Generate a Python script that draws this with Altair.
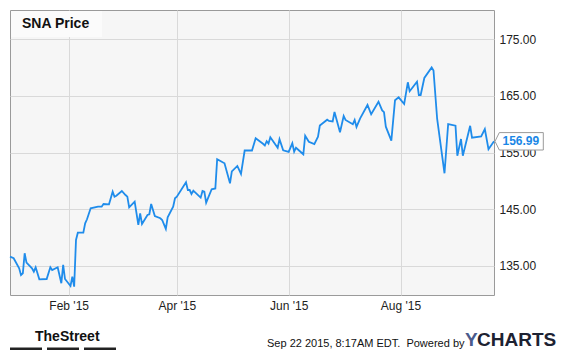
import altair as alt
import pandas as pd

# ---- data (SNA daily close, YTD 2015) ----
dates = [
    "2014-12-31", "2015-01-02", "2015-01-05", "2015-01-06", "2015-01-07", "2015-01-08", "2015-01-09",
    "2015-01-12", "2015-01-13", "2015-01-14", "2015-01-16", "2015-01-20", "2015-01-22", "2015-01-23",
    "2015-01-26", "2015-01-28", "2015-01-29", "2015-01-30", "2015-02-02", "2015-02-03", "2015-02-04",
    "2015-02-05", "2015-02-06", "2015-02-09", "2015-02-10", "2015-02-11", "2015-02-13", "2015-02-17",
    "2015-02-19", "2015-02-20", "2015-02-23", "2015-02-25", "2015-02-26", "2015-02-27", "2015-03-02",
    "2015-03-04", "2015-03-05", "2015-03-06", "2015-03-09", "2015-03-11", "2015-03-12", "2015-03-13",
    "2015-03-16", "2015-03-17", "2015-03-18", "2015-03-20", "2015-03-23", "2015-03-24", "2015-03-26",
    "2015-03-27", "2015-03-30", "2015-03-31", "2015-04-01", "2015-04-06", "2015-04-07", "2015-04-08",
    "2015-04-09", "2015-04-10", "2015-04-14", "2015-04-15", "2015-04-16", "2015-04-17", "2015-04-20",
    "2015-04-22", "2015-04-23", "2015-04-27", "2015-04-30", "2015-05-01", "2015-05-04", "2015-05-06",
    "2015-05-08", "2015-05-12", "2015-05-14", "2015-05-18", "2015-05-19", "2015-05-20", "2015-05-21",
    "2015-05-22", "2015-05-26", "2015-05-27", "2015-05-29", "2015-06-01", "2015-06-03", "2015-06-04",
    "2015-06-05", "2015-06-09", "2015-06-10", "2015-06-12", "2015-06-15", "2015-06-17", "2015-06-18",
    "2015-06-22", "2015-06-23", "2015-06-25", "2015-06-26", "2015-06-29", "2015-07-01", "2015-07-02",
    "2015-07-06", "2015-07-07", "2015-07-08", "2015-07-10", "2015-07-14", "2015-07-16", "2015-07-20",
    "2015-07-22", "2015-07-23", "2015-07-24", "2015-07-27", "2015-07-29", "2015-07-31", "2015-08-03",
    "2015-08-05", "2015-08-06", "2015-08-10", "2015-08-11", "2015-08-12", "2015-08-14", "2015-08-18",
    "2015-08-19", "2015-08-21", "2015-08-25", "2015-08-27", "2015-08-31", "2015-09-01", "2015-09-03",
    "2015-09-04", "2015-09-08", "2015-09-09", "2015-09-14", "2015-09-16", "2015-09-18", "2015-09-21",
]
prices = [
    136.64, 136.36, 134.59, 133.41, 133.71, 137.24, 135.58,
    134.59, 134.00, 134.77, 132.65, 132.70, 134.77, 134.29,
    134.77, 131.95, 135.18, 132.70, 131.47, 133.11, 131.35,
    139.59, 140.87, 140.87, 142.53, 143.24, 145.18, 145.46,
    145.46, 145.93, 145.88, 148.10, 147.22, 147.40, 148.23,
    147.52, 147.22, 145.35, 146.34, 142.23, 144.29, 142.41,
    144.00, 144.12, 145.93, 143.82, 143.41, 143.11, 141.53,
    143.59, 145.46, 146.94, 147.22, 149.76, 148.40, 148.40,
    147.70, 148.28, 147.05, 148.23, 148.10, 146.16, 148.53,
    148.67, 153.82, 153.11, 149.59, 151.67, 152.64, 151.23,
    155.37, 155.37, 157.52, 156.55, 156.25, 157.01, 156.59,
    157.70, 155.85, 157.36, 155.39, 155.11, 156.64, 155.16,
    155.86, 154.70, 157.98, 156.92, 156.48, 157.80, 159.78,
    160.80, 160.57, 160.49, 162.16, 158.58, 161.46, 160.75,
    160.01, 160.75, 159.52, 161.05, 163.40, 161.76, 163.98,
    162.43, 162.13, 159.57, 157.10, 164.22, 164.75, 163.57,
    167.40, 165.83, 167.50, 165.16, 165.16, 168.16, 170.01,
    169.48, 160.93, 151.35, 160.04, 159.74, 154.44, 157.40,
    154.44, 159.73, 157.63, 157.87, 159.16, 155.60, 156.99,
]
x_tick_months = [2, 4, 6, 8]          # Feb '15, Apr '15, Jun '15, Aug '15
y_ticks = [135, 145, 155, 165, 175]
y_domain = [129.88, 180.15]
title_text = "SNA Price"
stamp_text = "Sep 22 2015, 8:17AM EDT.\u00a0 Powered by"

LINE = "#1f8ceb"
FONT = "Liberation Sans, Arial, sans-serif"

df = pd.DataFrame({"date": dates, "price": prices})
last = df.tail(1)
one = pd.DataFrame({"k": [0]})

y_scale = alt.Scale(domain=y_domain, nice=False, zero=False)

x_enc = alt.X(
    "date:T",
    scale=alt.Scale(
        type="utc",
        nice=False,
        domain=[alt.DateTime(year=2014, month=12, date=31, utc=True),
                alt.DateTime(year=2015, month=9, date=21, utc=True)],
    ),
    axis=alt.Axis(
        title=None,
        values=[alt.DateTime(year=2015, month=m, date=1, utc=True) for m in x_tick_months],
        labelExpr="utcFormat(datum.value, \"%b '%y\")",
        ticks=False,
        domain=False,
        grid=True,
        gridColor="#d9d9d9",
        labelPadding=5,
        labelFontSize=12,
        labelFont=FONT,
        labelColor="#222222",
    ),
)
y_enc = alt.Y(
    "price:Q",
    scale=y_scale,
    axis=alt.Axis(
        title=None,
        orient="right",
        values=y_ticks,
        format=".2f",
        ticks=False,
        domain=False,
        grid=True,
        gridColor="#d9d9d9",
        labelPadding=5,
        labelFontSize=12,
        labelFont=FONT,
        labelColor="#222222",
    ),
)

line = alt.Chart(df).mark_line(color=LINE, strokeWidth=1.8).encode(x=x_enc, y=y_enc)

title_box = alt.Chart(one).mark_rect(fill="#fbfbfb").encode(
    x=alt.value(1), x2=alt.value(92), y=alt.value(1), y2=alt.value(27)
)
title = alt.Chart(one).mark_text(
    text=title_text, align="left", baseline="alphabetic", fontSize=14,
    fontWeight="bold", font=FONT, color="#111111"
).encode(x=alt.value(12), y=alt.value(18))

tag_shape = "M0,0L4.3,-8.7L48.3,-8.7L48.3,8.7L4.3,8.7Z"
tag = alt.Chart(last).mark_point(
    shape=tag_shape, size=4, filled=True, fill="#ffffff", stroke="#9a9a9a",
    strokeWidth=1, opacity=1
).encode(x=alt.value(485), y=alt.Y("price:Q", scale=y_scale))
tag_text = alt.Chart(last).mark_text(
    align="left", baseline="middle", fontSize=12, fontWeight="bold",
    font=FONT, color="#1a87e6"
).encode(x=alt.value(492.5), y=alt.Y("price:Q", scale=y_scale),
         text=alt.Text("price:Q", format=".2f"))

street = alt.Chart(one).mark_text(
    text="TheStreet", align="left", baseline="alphabetic", fontSize=14,
    fontWeight="bold", font=FONT, color="#111111"
).encode(x=alt.value(25), y=alt.value(331))
bars = [
    alt.Chart(one).mark_rect(color="#222222").encode(
        x=alt.value(x0), x2=alt.value(x0 + 32), y=alt.value(337.5), y2=alt.value(340))
    for x0 in (0, 37, 74)
]
stamp = alt.Chart(one).mark_text(
    text=stamp_text, align="left", baseline="alphabetic", fontSize=11,
    font=FONT, color="#111111"
).encode(x=alt.value(257), y=alt.value(336.5))
logo_y = alt.Chart(one).mark_text(
    text="Y", align="left", baseline="alphabetic", fontSize=19, fontWeight="bold",
    font=FONT, color="#4a5b8c"
).encode(x=alt.value(455), y=alt.value(335.5))
logo_rest = alt.Chart(one).mark_text(
    text="CHARTS", align="left", baseline="alphabetic", fontSize=19, fontWeight="bold",
    font=FONT, color="#1d2232"
).encode(x=alt.value(467), y=alt.value(335.5))

chart = alt.layer(
    line, title_box, title, tag, tag_text, street, *bars, stamp, logo_y, logo_rest
).properties(
    width=484, height=285,
    autosize=alt.AutoSizeParams(type="none"),
    padding={"left": 2, "top": 2, "right": 73, "bottom": 55},
    background="#ffffff",
).configure_view(
    fill="#f6f6f6", stroke="#9a9a9a", strokeWidth=1
)

chart.save("out.html", embed_options={"renderer": "svg", "actions": False})
